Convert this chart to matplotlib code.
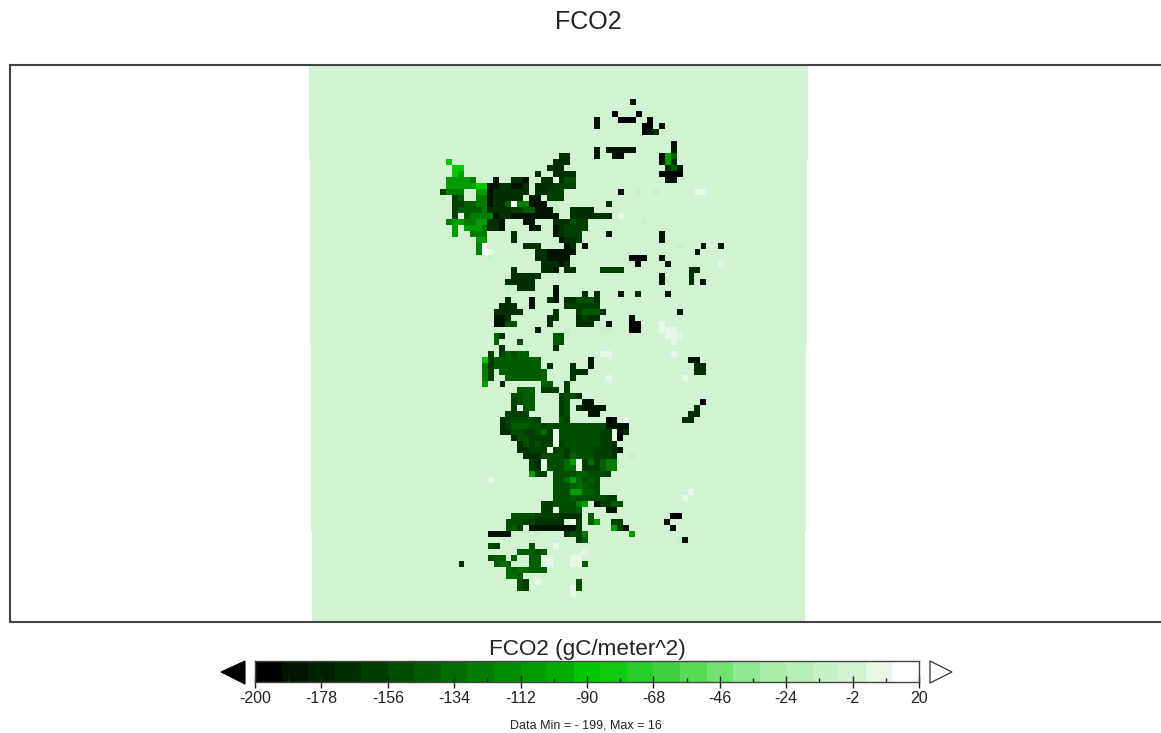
import numpy as np
import matplotlib
matplotlib.use("Agg")
import matplotlib.pyplot as plt
from matplotlib.colors import ListedColormap, BoundaryNorm
from matplotlib.patches import Polygon

plt.rcParams['font.family'] = ['Liberation Sans', 'DejaVu Sans']
plt.rcParams['axes.unicode_minus'] = False

W, H = 1161, 733
TITLE = "FCO2"
CB_LABEL = "FCO2 (gC/meter^2)"
FOOT = "Data Min = - 199, Max = 16"
BOUNDS = np.linspace(-200, 20, 26)
TICKS = [-200, -178, -156, -134, -112, -90, -68, -46, -24, -2, 20]
MINOR = [-189, -167, -145, -123, -101, -79, -57, -35, -13, 9]
COLORS = ['#000000', '#001400', '#002200', '#003000', '#003f00', '#004e00', '#005d00', '#006c00',
          '#007c00', '#008c00', '#009c00', '#00ae00', '#00c800', '#10cc10', '#28cf28', '#40d040',
          '#58dc58', '#70e270', '#90e890', '#a8eca8', '#b8efb8', '#c6f1c6', '#d2f3d2', '#e6f9e6',
          '#ffffff']
BACKGROUND = -2.0
LEVELS = {'#': -196, 'k': -185, 'd': -170, 'D': -165, 'm': -160, 'M': -152, 'n': -143, 'N': -134, 'g': -125,
          'G': -108, 'b': -90, 'l': -55, 'c': -10, 'p': 7, 'w': 15}

CELLS = {
 1: [(32,'k')],
 3: [(29,'#'),(33,'#')],
 4: [(26,'k'),(30,'###'),(35,'#')],
 5: [(26,'k'),(34,'##'),(37,'k')],
 6: [(34,'#k'),(36,'d')],
 8: [(39,'k')],
 9: [(26,'k'),(28,'kkkkk'),(39,'k')],
 10: [(20,'dd'),(26,'k'),(29,'kk'),(37,'#Gn')],
 11: [(1,'b'),(19,'ddd'),(37,'kGd')],
 12: [(2,'bb'),(18,'ddd'),(38,'dnk')],
 13: [(2,'bG'),(16,'d'),(19,'dddd'),(37,'####')],
 14: [(1,'GGGGg'),(9,'k'),(12,'dd'),(14,'k'),(17,'dd'),(19,'p'),(20,'dMM'),(38,'kk')],
 15: [(1,'GGGGGbb'),(8,'kkddkk'),(14,'d'),(16,'dddmmmm')],
 16: [(0,'m'),(1,'ggg'),(6,'GG'),(8,'kddddd'),(14,'d'),(16,'ddmmm'),(30,'k'),(33,'c'),(36,'c'),(43,'pp')],
 17: [(0,'c'),(2,'mn'),(6,'gg'),(8,'kddddd'),(15,'kk'),(18,'mmm')],
 18: [(2,'mmnng'),(7,'g'),(8,'kddnM'),(12,'w'),(13,'gg'),(15,'kk'),(16,'k'),(17,'k'),(19,'c'),(28,'d')],
 19: [(2,'mnnnng'),(8,'ddddmmnnkkk'),(19,'c'),(22,'dddd')],
 20: [(2,'mpngggg'),(9,'kddkkkkkkkk'),(22,'dddd'),(26,'ddd'),(30,'p')],
 21: [(1,'gGGggGG'),(8,'ddk'),(14,'kk'),(19,'dddMmm'),(34,'c')],
 22: [(2,'G'),(4,'GGGg'),(8,'ddk'),(15,'kk'),(19,'kdmmmm')],
 23: [(2,'G'),(5,'ggg'),(12,'d'),(19,'kdmmm'),(28,'k'),(37,'k')],
 24: [(6,'GG'),(12,'d'),(20,'kddm'),(37,'k')],
 25: [(6,'g'),(7,'w'),(14,'ddd'),(21,'kd'),(24,'k'),(40,'c'),(44,'k'),(47,'k')],
 26: [(6,'g'),(7,'wp'),(16,'ddkkkkk'),(43,'k')],
 27: [(8,'c'),(16,'ddkkkk'),(32,'###'),(37,'k')],
 28: [(17,'dddkd'),(33,'#'),(38,'k'),(47,'p')],
 29: [(12,'d'),(17,'ddk'),(21,'dd'),(27,'mmmm'),(42,'dd')],
 30: [(12,'ddddd'),(37,'k'),(42,'d')],
 31: [(11,'ddddd'),(37,'k'),(42,'d'),(44,'k')],
 32: [(11,'c'),(13,'ddd'),(19,'k')],
 33: [(19,'k'),(24,'d'),(26,'d'),(30,'k'),(33,'d'),(38,'k')],
 34: [(11,'d'),(15,'k'),(18,'dk'),(21,'ddMMM'),(26,'d')],
 35: [(10,'ddd'),(15,'k'),(21,'mmmmmm')],
 36: [(9,'ddddd'),(19,'d'),(23,'mnnnd'),(40,'k')],
 37: [(9,'kkd'),(18,'dd'),(23,'dmdd'),(32,'k')],
 38: [(9,'kkMM'),(18,'d'),(23,'ddd'),(26,'c'),(28,'k'),(32,'##'),(37,'p')],
 39: [(9,'c'),(16,'k'),(21,'c'),(27,'cc'),(32,'##'),(37,'ppp')],
 40: [(9,'nd'),(19,'nM'),(21,'c'),(38,'ppp')],
 41: [(9,'n'),(13,'M'),(19,'nM'),(39,'p')],
 42: [(10,'d'),(19,'d')],
 43: [(8,'m'),(10,'mnMnn'),(27,'pp'),(39,'p')],
 44: [(7,'b'),(8,'m'),(9,'nnnnnnn'),(16,'n'),(25,'k'),(42,'kk')],
 45: [(7,'g'),(8,'m'),(9,'nnnnnnnn'),(18,'d'),(22,'d'),(25,'k'),(43,'dd')],
 46: [(7,'g'),(8,'m'),(10,'nnnnnnnn'),(22,'ddd'),(43,'dd')],
 47: [(7,'g'),(8,'m'),(11,'nnnnnnn'),(22,'d'),(28,'p'),(41,'p')],
 48: [(7,'G'),(10,'d'),(17,'nn'),(21,'m')],
 49: [(13,'nnn'),(17,'mmm'),(21,'m')],
 50: [(12,'MMnn'),(20,'mMMd')],
 51: [(12,'mMnn'),(20,'mM'),(24,'kk'),(44,'#')],
 52: [(12,'m'),(13,'p'),(14,'nn'),(20,'mM'),(23,'dkkkk'),(43,'d')],
 53: [(11,'mmmm'),(20,'mM'),(25,'kk'),(42,'d'),(43,'d')],
 54: [(10,'dmMMMMm'),(20,'Mm'),(28,'#k'),(31,'p'),(41,'dd')],
 55: [(10,'dmnnnMMmMmMMMMMMMMkk'),(30,'kk')],
 56: [(10,'ddMMmmMNmm'),(19,'p'),(20,'MMMMMMMmm'),(29,'p'),(30,'kd')],
 57: [(12,'dMMmmmm'),(19,'p'),(20,'MMMMMMMmm'),(29,'p'),(30,'#')],
 58: [(13,'dMmMmm'),(19,'p'),(20,'mMMMMMMmmd')],
 59: [(13,'ddmmm'),(18,'p'),(19,'mMmMMMMmmmdk')],
 60: [(14,'dddMMMMmnMMMmmmd'),(32,'c')],
 61: [(15,'mdd'),(17,'p'),(18,'MMMNG'),(23,'p'),(24,'mNmng'),(29,'g')],
 62: [(15,'md'),(17,'p'),(18,'MMMNN'),(23,'p'),(24,'mmmng'),(29,'g')],
 63: [(15,'Gmm'),(19,'MMMMnnMMMm')],
 64: [(8,'p'),(19,'MMNGNMnM')],
 65: [(19,'MMMnNnMM')],
 66: [(19,'MMMGGnnM'),(42,'p')],
 67: [(19,'MMMnMMMM'),(27,'Mmm'),(41,'p')],
 68: [(17,'mmMMMMn'),(23,'gG'),(26,'kmmnM')],
 69: [(17,'mmpMMMn'),(23,'n'),(28,'kk')],
 70: [(12,'MMMMmmmm'),(20,'dddd'),(25,'n'),(39,'##')],
 71: [(11,'MMMmmddddd'),(22,'p'),(23,'m'),(25,'nG'),(29,'mm'),(38,'k')],
 72: [(11,'Mnm'),(15,'kkkkkkkk'),(23,'m'),(29,'Gmk'),(39,'k')],
 73: [(8,'kkkk'),(21,'dMm'),(24,'g'),(16,'c'),(32,'G')],
 74: [(23,'mn'),(40,'c'),(41,'k')],
 75: [(8,'Mm'),(15,'M'),(19,'p')],
 76: [(13,'nnnMn'),(24,'p')],
 77: [(8,'Mnn'),(12,'n'),(15,'nn'),(17,'pp'),(22,'pp')],
 78: [(3,'d'),(9,'nNn'),(15,'nn'),(17,'pp'),(22,'pp'),(24,'n')],
 79: [(11,'Nn'),(13,'NNnnn')],
 80: [(11,'NNn')],
 81: [(13,'Mm'),(16,'p'),(23,'M')],
 82: [(13,'Mm'),(22,'p'),(23,'M')],
 83: [(22,'p')],
}

def fx(px): return px / W
def fy(py): return 1 - py / H

fig = plt.figure(figsize=(W/100, H/100), dpi=100, facecolor='white')

# map panel
FRAME_L, FRAME_R, FRAME_T, FRAME_B = 10, 1165, 65, 622
ax = fig.add_axes([fx(FRAME_L), fy(FRAME_B), (FRAME_R-FRAME_L)/W, (FRAME_B-FRAME_T)/H])
X0, Y0, CW, CH = 438.0, 93.33, 6.0, 6.0
ax.set_xlim((FRAME_L-X0)/CW, (FRAME_R-X0)/CW)
ax.set_ylim((FRAME_B-Y0)/CH, (FRAME_T-Y0)/CH)
ax.set_xticks([]); ax.set_yticks([])
for s in ax.spines.values():
    s.set_linewidth(1.5); s.set_color('#444444')

COL0, NCOL, ROW0, NROW = -22, 84, -5, 93
grid = np.full((NROW, NCOL), BACKGROUND)
for r, runs in CELLS.items():
    for c, chars in runs:
        for k, ch in enumerate(chars):
            grid[r-ROW0, c+k-COL0] = LEVELS[ch]

# slightly warped grid (map projection): edges narrow towards the bottom
jj = np.arange(NROW+1) / NROW
ii = np.arange(NCOL+1) / NCOL
left = (309-X0)/CW + jj*(312-309)/CW
right = (808-X0)/CW + jj*(805-808)/CW
XE = left[:, None] + ii[None, :]*(right-left)[:, None]
YE = np.repeat((ROW0 + np.arange(NROW+1))[:, None], NCOL+1, axis=1).astype(float)
cmap = ListedColormap(COLORS)
norm = BoundaryNorm(BOUNDS, cmap.N)
ax.pcolormesh(XE, YE, grid, cmap=cmap, norm=norm, shading='flat', antialiased=False)

fig.text(fx(588), fy(22), TITLE, ha='center', va='center', fontsize=18, color='#222222')

# colour bar
CB_L, CB_R, CB_T, CB_B = 255, 919, 661, 682
cax = fig.add_axes([fx(CB_L), fy(CB_B), (CB_R-CB_L)/W, (CB_B-CB_T)/H])
cax.pcolormesh(BOUNDS, [0, 1], (BOUNDS[:-1]+BOUNDS[1:])[None, :]/2, cmap=cmap, norm=norm)
cax.set_yticks([])
cax.set_xticks(TICKS)
cax.set_xticks(MINOR, minor=True)
cax.tick_params(axis='x', which='major', direction='inout', length=9, width=1, labelsize=11.5, pad=2, labelcolor='#222222', color='#222222')
cax.tick_params(axis='x', which='minor', direction='in', length=3, width=1, color='#222222')
for s in cax.spines.values():
    s.set_linewidth(1); s.set_color('#444444')

over = fig.add_axes([0, 0, 1, 1], facecolor='none')
over.set_xlim(0, W); over.set_ylim(H, 0); over.axis('off')
over.add_patch(Polygon([(245, 661), (245, 684), (221, 672)], closed=True, fc='black', ec='black', lw=0.8))
over.add_patch(Polygon([(930, 661), (930, 683), (952, 672)], closed=True, fc='white', ec='#444444', lw=1))

fig.text(fx(587), fy(649), CB_LABEL, ha='center', va='center', fontsize=16.2, color='#222222')
fig.text(fx(586), fy(726), FOOT, ha='center', va='center', fontsize=9, color='#222222')

fig.savefig('out.png', dpi=100)
